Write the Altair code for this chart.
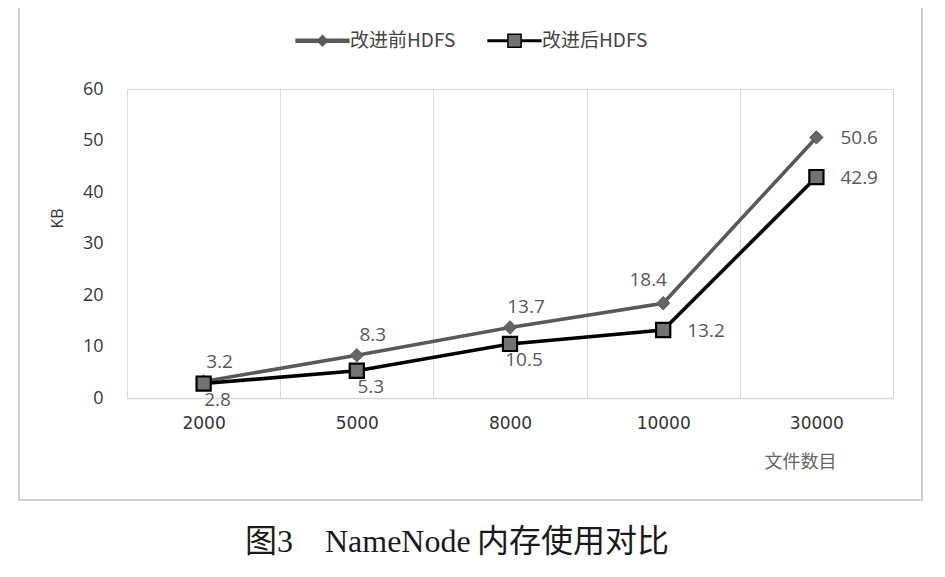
import altair as alt
import pandas as pd

categories = ["2000", "5000", "8000", "10000", "30000"]
series_names = ["改进前HDFS", "改进后HDFS"]
before_values = [3.2, 8.3, 13.7, 18.4, 50.6]
after_values = [2.8, 5.3, 10.5, 13.2, 42.9]
before_label_side = ["above", "above", "above", "above-left", "right"]
after_label_side = ["below", "below", "below", "right", "right"]

rows = []
for s, vals, sides in [(series_names[0], before_values, before_label_side),
                       (series_names[1], after_values, after_label_side)]:
    for c, v, sd in zip(categories, vals, sides):
        rows.append({"files": c, "series": s, "value": v, "side": sd,
                     "label": f"{v:.1f}"})
df = pd.DataFrame(rows)

SANS = "Open Sans"
LEG_BEFORE = "M-4.4,-0.25H-0.6V0.25H-4.4Z M0.6,-0.25H4.4V0.25H0.6Z M0,-0.85L0.85,0L0,0.85L-0.85,0Z"
LEG_AFTER = "M-4.4,-0.14H-1.1V0.14H-4.4Z M1.1,-0.14H4.4V0.14H1.1Z M-1.1,-1.1H1.1V1.1H-1.1Z"

x_enc = alt.X("files:N", sort=categories,
              scale=alt.Scale(type="band", paddingInner=0, paddingOuter=0, domain=categories),
              axis=alt.Axis(tickBand="extent", grid=True, gridColor="#d9d9d9", gridWidth=1,
                            ticks=False, domain=True, domainColor="#d9d9d9", domainWidth=1.5,
                            labelAngle=0, labelFont="DejaVu Sans", labelFontSize=17,
                            labelColor="#333333", labelPadding=17,
                            title="文件数目", titleFont="Noto Sans CJK SC", titleFontSize=18,
                            titleFontWeight="normal", titleColor="#666666",
                            titleX=673, titleY=55, titleAlign="center", titleBaseline="top"))
y_enc = alt.Y("value:Q",
              scale=alt.Scale(domain=[0, 60], nice=False),
              axis=alt.Axis(values=[0, 10, 20, 30, 40, 50, 60], grid=False, domain=False,
                            ticks=False, labelFont=SANS, labelFontSize=18,
                            labelColor="#383838", labelPadding=24,
                            title="KB", titleFont=SANS, titleFontSize=16,
                            titleFontWeight="normal", titleColor="#383838",
                            titleX=-70, titleY=129, titleAlign="center",
                            titleBaseline="middle", titleAngle=-90))

legend = alt.Legend(
    title=None, orient="none", legendX=166, legendY=-58, direction="horizontal",
    columns=2, labelFont="Noto Sans CJK SC", labelFontSize=19, labelColor="#444444",
    symbolSize=144, symbolOffset=20, labelOffset=18, symbolStrokeWidth=1.5)

stroke_scale = alt.Scale(domain=series_names, range=["#595959", "#000000"])
stroke_enc = alt.Stroke("series:N", scale=stroke_scale, legend=legend)

base = alt.Chart(df)

frame = alt.Chart(pd.DataFrame({"k": [0]})).mark_rect(
    fill=None, stroke="#cfcfcf", strokeWidth=2, clip=False
).encode(x=alt.value(-108), x2=alt.value(795), y=alt.value(-82), y2=alt.value(411))

lines = base.mark_line(strokeWidth=3.6).encode(
    x=x_enc, y=y_enc, stroke=stroke_enc, detail="series:N")

# legend-only layer (no data rows) providing combined line+marker legend symbols
legend_layer = base.transform_filter("false").mark_point(filled=True, opacity=1).encode(
    x=x_enc, y=y_enc, stroke=stroke_enc,
    shape=alt.Shape("series:N", scale=alt.Scale(domain=series_names, range=[LEG_BEFORE, LEG_AFTER]),
                    legend=legend),
    fill=alt.Fill("series:N", scale=alt.Scale(domain=series_names, range=["#5a5a5a", "#737373"]),
                  legend=legend))

pts_before = base.transform_filter(alt.datum.series == series_names[0]).mark_point(
    shape="diamond", filled=True, fill="#666666", size=180, strokeWidth=1, opacity=1
).encode(x=x_enc, y=y_enc, stroke=stroke_enc)

pts_after = base.transform_filter(alt.datum.series == series_names[1]).mark_point(
    shape="square", filled=True, fill="#737373", size=200, strokeWidth=2.2, opacity=1
).encode(x=x_enc, y=y_enc, stroke=stroke_enc)

label_style = dict(font=SANS, fontSize=19, color="#595959")
placements = {
    "above": dict(dx=16, dy=-20, align="center", baseline="middle"),
    "above-left": dict(dx=-15, dy=-23, align="center", baseline="middle"),
    "below": dict(dx=14, dy=16, align="center", baseline="middle"),
    "right": dict(dx=24, dy=1, align="left", baseline="middle"),
}
label_layers = []
for side, p in placements.items():
    label_layers.append(
        base.transform_filter(alt.datum.side == side).mark_text(**label_style, **p).encode(
            x=x_enc, y=y_enc, text="label:N"))

chart = alt.layer(frame, lines, legend_layer, pts_before, pts_after, *label_layers).properties(
    width=766, height=309,
    autosize=alt.AutoSizeParams(type="none"),
    padding={"left": 119, "top": 81, "right": 44, "bottom": 171},
    title=alt.Title("图3\u3000NameNode\u2009内存使用对比", orient="bottom", anchor="middle",
                    font="Liberation Serif, Noto Sans CJK SC", fontSize=32,
                    fontWeight="normal", color="#1a1a1a", dx=-53, offset=26),
).configure_view(stroke=None).configure(background="white").configure_legend(columnPadding=29)

chart.save("out.html", embed_options={"renderer": "svg", "actions": False})
